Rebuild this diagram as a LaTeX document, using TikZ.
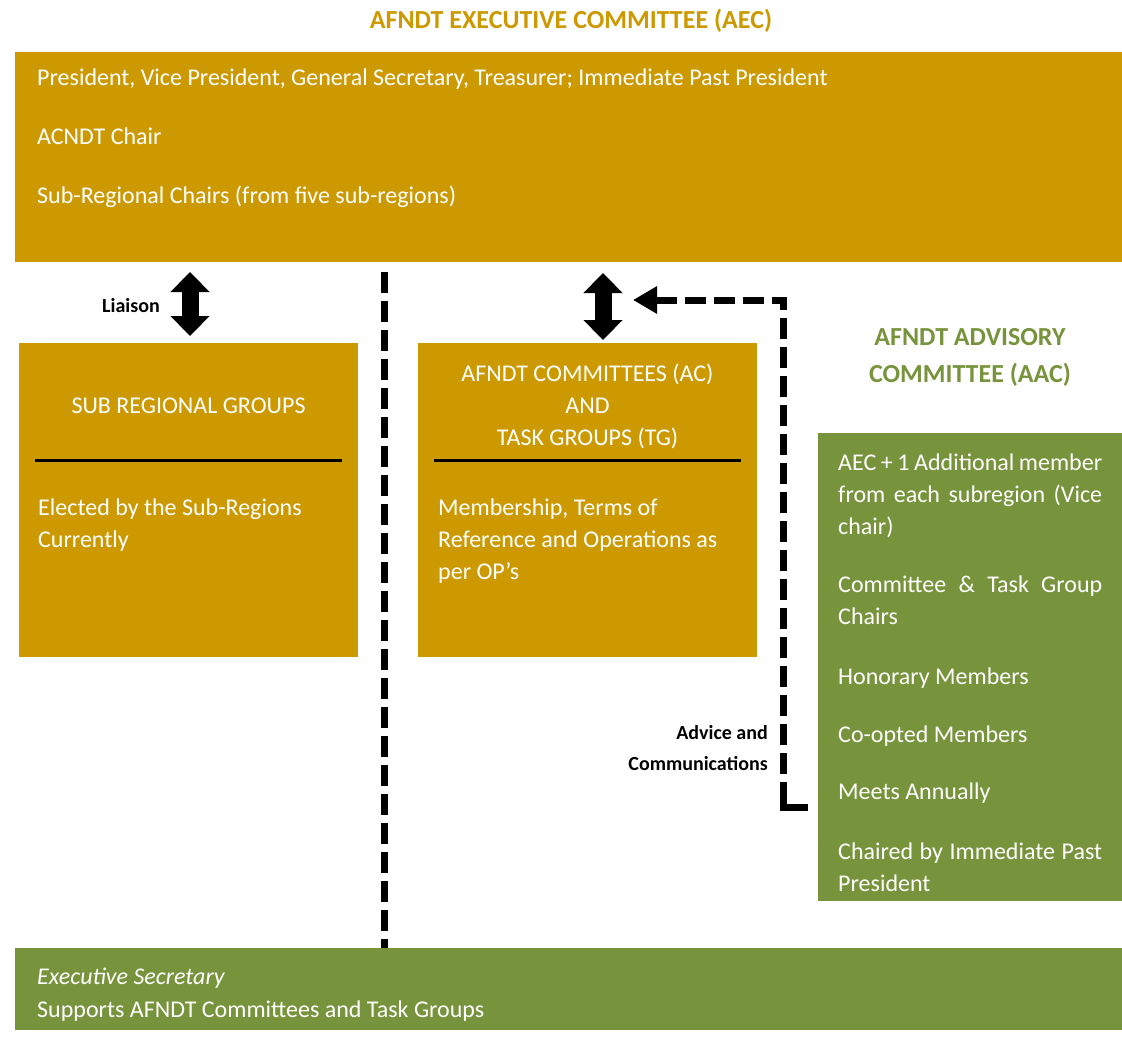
\documentclass[tikz,border=0pt]{standalone}
\usepackage{fontspec}
\setmainfont{Carlito}
\usetikzlibrary{arrows.meta}
\definecolor{gold}{RGB}{204,153,0}
\definecolor{olive}{RGB}{119,147,60}
\begin{document}
\begin{tikzpicture}[x=1pt,y=-1pt,
  box/.style={rectangle,inner sep=0pt,outer sep=0pt,anchor=north west,draw=none},
  txt/.style={text=white,font=\fontsize{24}{32}\selectfont,inner sep=0pt,anchor=base west},
  ctxt/.style={txt,anchor=base},
  head/.style={font=\bfseries\fontsize{26}{34}\selectfont,inner sep=0pt,anchor=base},
  lbl/.style={font=\bfseries\fontsize{20}{30}\selectfont,inner sep=0pt,anchor=base east},
  dbl/.style={line width=17pt,{Triangle[length=20pt,width=38pt]}-{Triangle[length=20pt,width=38pt]}},
  dsh/.style={line width=7pt,dash pattern=on 21pt off 8pt},
  rulebar/.style={line width=3pt,black}]
\useasboundingbox (0,0) rectangle (1122,1051);

% titles
\node[head,text=gold] (aectitle) at (571,29) {AFNDT EXECUTIVE COMMITTEE (AEC)};
\node[head,text=olive] (aactitle1) at (970,345) {AFNDT ADVISORY};
\node[head,text=olive] (aactitle2) at (970,382) {COMMITTEE (AAC)};

% boxes
\node[box,fill=gold,minimum width=1107pt,minimum height=210pt] (aec) at (15,52) {};
\node[box,fill=gold,minimum width=339pt,minimum height=314pt] (sub) at (19,343) {};
\node[box,fill=gold,minimum width=339pt,minimum height=314pt] (comm) at (418,343) {};
\node[box,fill=olive,minimum width=304pt,minimum height=468pt] (aac) at (818,433) {};
\node[box,fill=olive,minimum width=1107pt,minimum height=82pt] (exec) at (15,948) {};

% AEC text
\node[txt] (aec1) at (37,86) {President, Vice President, General Secretary, Treasurer; Immediate Past President};
\node[txt] (aec2) at (37,145) {ACNDT Chair};
\node[txt] (aec3) at (37,204) {Sub-Regional Chairs (from five sub-regions)};

% Sub regional
\node[ctxt] (subt) at (188.5,413) {SUB REGIONAL GROUPS};
\draw[rulebar] (35,460) -- (342,460);
\node[txt] (sub1) at (38,515) {Elected by the Sub-Regions};
\node[txt] (sub2) at (38,547) {Currently};

% Committees
\node[ctxt] (comt1) at (587.5,381) {AFNDT COMMITTEES (AC)};
\node[ctxt] (comt2) at (587.5,413) {AND};
\node[ctxt] (comt3) at (587.5,445) {TASK GROUPS (TG)};
\draw[rulebar] (434,460) -- (741,460);
\node[txt] (com1) at (438,515) {Membership, Terms of};
\node[txt] (com2) at (438,547) {Reference and Operations as};
\node[txt] (com3) at (438,579) {per OP’s};

% Advisory
\node[txt] (aac1) at (838,470) {\makebox[264pt][s]{AEC + 1 Additional member}};
\node[txt] (aac2) at (838,502) {\makebox[264pt][s]{from each subregion (Vice}};
\node[txt] (aac3) at (838,534) {chair)};
\node[txt] (aac4) at (838,592) {\makebox[264pt][s]{Committee \& Task Group}};
\node[txt] (aac5) at (838,624) {Chairs};
\node[txt] (aac6) at (838,684) {Honorary Members};
\node[txt] (aac7) at (838,742) {Co-opted Members};
\node[txt] (aac8) at (838,799) {Meets Annually};
\node[txt] (aac9) at (838,859) {\makebox[264pt][s]{Chaired by Immediate Past}};
\node[txt] (aac10) at (838,891) {President};

% Executive secretary
\node[txt] (exec1) at (37,984) {\itshape Executive Secretary};
\node[txt] (exec2) at (37,1017) {Supports AFNDT Committees and Task Groups};

% labels
\node[lbl] (liaison) at (160,312) {Liaison};
\node[lbl] (adv1) at (768,739) {Advice and};
\node[lbl] (adv2) at (768,770) {Communications};

% double arrows
\coordinate (a1x) at (190,0);
\coordinate (a2x) at (603,0);
\draw[dbl,shorten <=10pt,shorten >=7pt] (aec.south -| a1x) -- (sub.north -| a1x);
\draw[dbl,shorten <=11pt,shorten >=3pt] (aec.south -| a2x) -- (comm.north -| a2x);

% vertical divider
\coordinate (vtop) at (384,272);
\draw[dsh] (vtop) -- (exec.north -| vtop);

% advice connector
\coordinate (advS) at (808,807);
\coordinate (c1) at (783,807);
\coordinate (c1b) at (783,782);
\coordinate (c2) at (783,300);
\coordinate (advE) at (633,300);
\draw[line width=7pt,line join=miter] (advS) -- (c1) -- (c1b);
\draw[dsh,dash phase=21pt,line join=miter,-{Triangle[length=24pt,width=26pt]}] (c1b) -- (c2) -- (advE);
\end{tikzpicture}
\end{document}
